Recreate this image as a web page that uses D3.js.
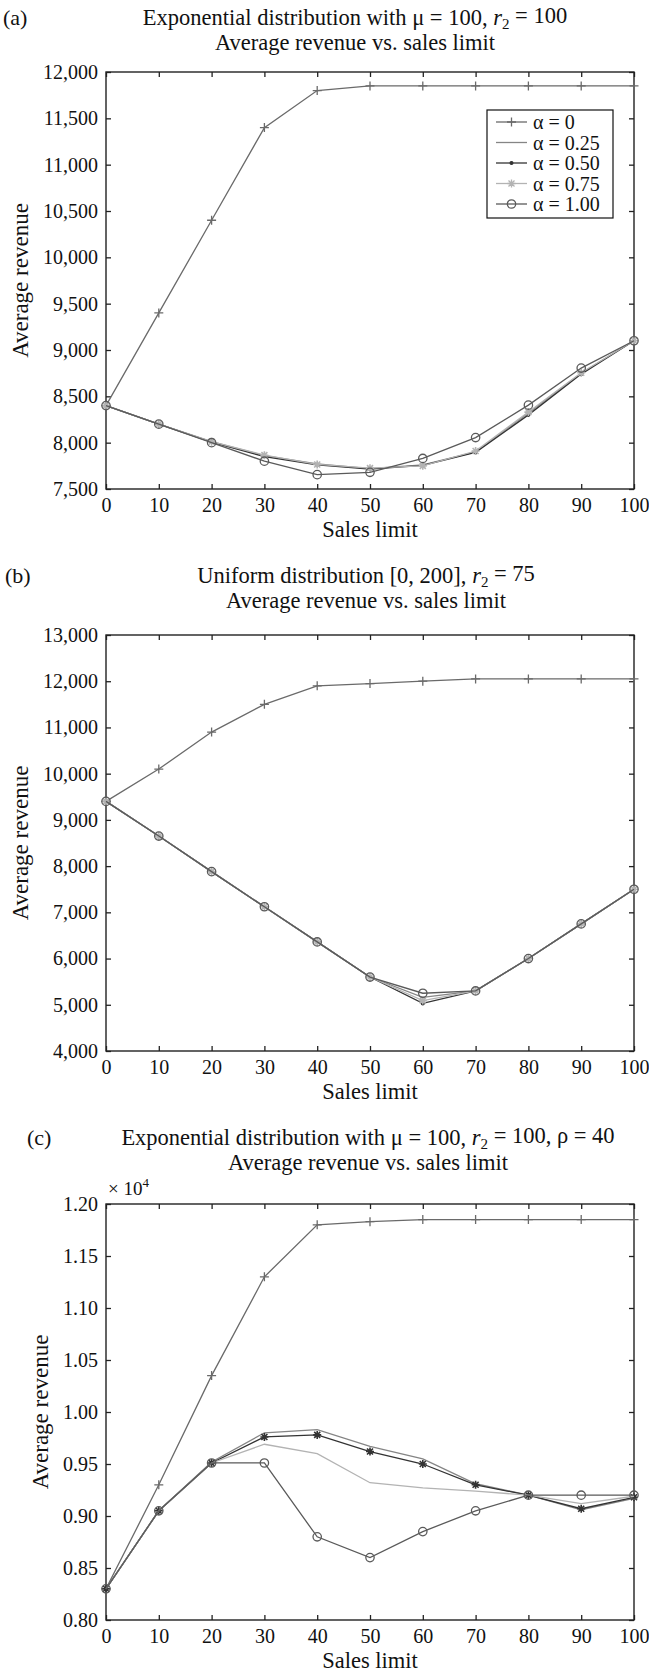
<!DOCTYPE html>
<html>
<head>
<meta charset="utf-8">
<script src="https://cdn.jsdelivr.net/npm/d3@7"></script>
<style>
  body { margin: 0; background: #fff; }
  text { font-family: "Liberation Serif", "Times New Roman", serif; fill: #111; }
</style>
</head>
<body>
<script>
// sales limit on the x axis, shared by all three panels
var salesLimit = [0, 10, 20, 30, 40, 50, 60, 70, 80, 90, 100]
var alphaNames = ["α = 0", "α = 0.25", "α = 0.50", "α = 0.75", "α = 1.00"]

// (a) exponential, mu = 100, r2 = 100
var aAlpha0   = [8400, 9400, 10400, 11400, 11800, 11850, 11850, 11850, 11850, 11850, 11850]
var aAlpha025 = [8400, 8200, 8010, 7860, 7770, 7720, 7760, 7900, 8320, 8750, 9100]
var aAlpha050 = [8400, 8200, 8005, 7850, 7760, 7715, 7755, 7895, 8300, 8740, 9100]
var aAlpha075 = [8400, 8200, 8010, 7865, 7765, 7725, 7750, 7910, 8330, 8755, 9100]
var aAlpha100 = [8400, 8200, 8000, 7800, 7655, 7680, 7830, 8055, 8405, 8805, 9100]
var aTicks = [7500, 8000, 8500, 9000, 9500, 10000, 10500, 11000, 11500, 12000]

// (b) uniform [0, 200], r2 = 75
var bAlpha0   = [9400, 10100, 10900, 11500, 11900, 11950, 12000, 12050, 12050, 12050, 12050]
var bAlpha025 = [9400, 8650, 7880, 7120, 6360, 5600, 5160, 5300, 6000, 6750, 7500]
var bAlpha050 = [9400, 8650, 7880, 7120, 6360, 5600, 5030, 5300, 6000, 6750, 7500]
var bAlpha075 = [9400, 8650, 7880, 7120, 6360, 5600, 5090, 5300, 6000, 6750, 7500]
var bAlpha100 = [9400, 8650, 7880, 7120, 6360, 5600, 5250, 5300, 6000, 6750, 7500]
var bTicks = [4000, 5000, 6000, 7000, 8000, 9000, 10000, 11000, 12000, 13000]

// (c) exponential, mu = 100, r2 = 100, rho = 40 (values x 10^4)
var cAlpha0   = [0.83, 0.93, 1.035, 1.13, 1.18, 1.183, 1.185, 1.185, 1.185, 1.185, 1.185]
var cAlpha025 = [0.83, 0.905, 0.952, 0.980, 0.983, 0.967, 0.955, 0.931, 0.920, 0.906, 0.917]
var cAlpha050 = [0.83, 0.905, 0.951, 0.976, 0.978, 0.962, 0.950, 0.930, 0.920, 0.907, 0.918]
var cAlpha075 = [0.83, 0.905, 0.951, 0.969, 0.960, 0.932, 0.927, 0.924, 0.920, 0.912, 0.919]
var cAlpha100 = [0.83, 0.905, 0.951, 0.951, 0.880, 0.860, 0.885, 0.905, 0.920, 0.920, 0.920]
var cTicks = [0.80, 0.85, 0.90, 0.95, 1.00, 1.05, 1.10, 1.15, 1.20]

// marker shapes, drawn as stroked paths
var markerPath = {
    plus: "M-4.5,0H4.5M0,-4.5V4.5",
    star: "M-4,0H4M0,-4V4M-3,-3L3,3M-3,3L3,-3",
    circle: d3.symbol(d3.symbolCircle, 55)(),
    dot: d3.symbol(d3.symbolCircle, 6)()
}
var styles = [
    {color: "#6a6a6a", marker: "plus"},
    {color: "#858585", marker: null},
    {color: "#333333", marker: "dot"},
    {color: "#b3b3b3", marker: "star"},
    {color: "#5a5a5a", marker: "circle"}
]

var svg = d3.select("body").append("svg")
    .attr("width", 649)
    .attr("height", 1674)

var left = 106, right = 634

function drawPanel(p) {
    var x = d3.scaleLinear().domain([0, 100]).range([left, right])
    var y = d3.scaleLinear().domain([p.ticks[0], p.ticks[p.ticks.length - 1]]).range([p.bottom, p.top])
    var g = svg.append("g")

    // panel letter and two title lines
    g.append("text").attr("x", p.tagX).attr("y", p.titleY).attr("dy", "0.35em")
        .attr("font-size", 22).text(p.tag)
    var t1 = g.append("text").attr("x", p.titleX).attr("y", p.titleY).attr("dy", "0.35em")
        .attr("font-size", 22.5).attr("text-anchor", "middle")
    p.title(t1)
    g.append("text").attr("x", p.titleX).attr("y", p.titleY + 25).attr("dy", "0.35em")
        .attr("font-size", 22.5).attr("text-anchor", "middle")
        .text("Average revenue vs. sales limit")

    // axes, ticks pointing inward on all four sides
    g.append("g").attr("transform", `translate(0,${p.bottom})`)
        .call(d3.axisBottom(x).tickValues(salesLimit).tickSize(-5).tickPadding(9))
    g.append("g").attr("transform", `translate(0,${p.top})`)
        .call(d3.axisTop(x).tickValues(salesLimit).tickSize(-5).tickFormat(""))
    g.append("g").attr("transform", `translate(${left},0)`)
        .call(d3.axisLeft(y).tickValues(p.ticks).tickSize(-5).tickPadding(8).tickFormat(p.format))
    g.append("g").attr("transform", `translate(${right},0)`)
        .call(d3.axisRight(y).tickValues(p.ticks).tickSize(-5).tickFormat(""))
    g.selectAll(".domain").remove()
    g.selectAll(".tick line").attr("stroke", "#222").attr("stroke-width", 1.3)
    g.selectAll(".tick text").attr("font-size", 20).attr("fill", "#111")

    g.append("rect")
        .attr("x", left).attr("y", p.top)
        .attr("width", right - left).attr("height", p.bottom - p.top)
        .attr("fill", "none").attr("stroke", "#222").attr("stroke-width", 1.4)

    // axis labels
    g.append("text").attr("x", (left + right) / 2).attr("y", p.bottom + 40).attr("dy", "0.35em")
        .attr("font-size", 22.5).attr("text-anchor", "middle").text("Sales limit")
    g.append("text")
        .attr("transform", `translate(${p.yLabelX},${(p.top + p.bottom) / 2}) rotate(-90)`)
        .attr("dy", "0.35em").attr("font-size", 23).attr("text-anchor", "middle")
        .text("Average revenue")

    if (p.exponent) {
        var e = g.append("text").attr("x", left + 2).attr("y", p.top - 16).attr("dy", "0.35em")
            .attr("font-size", 19)
        e.append("tspan").text("× 10")
        e.append("tspan").attr("font-size", 13).attr("dy", "-0.6em").text("4")
    }

    // series
    var line = d3.line().x((d, i) => x(salesLimit[i])).y(d => y(d))
    p.series.forEach((vals, k) => {
        var st = Object.assign({}, styles[k], (p.override || {})[k])
        g.append("path").datum(vals)
            .attr("fill", "none").attr("stroke", st.color).attr("stroke-width", 1.3)
            .attr("d", line)
        if (st.marker) {
            g.append("g").selectAll("path").data(vals).join("path")
                .attr("transform", (d, i) => `translate(${x(salesLimit[i])},${y(d)})`)
                .attr("d", markerPath[st.marker])
                .attr("fill", st.marker == "dot" ? st.color : "none")
                .attr("stroke", st.color).attr("stroke-width", st.marker == "star" ? 1.6 : 1.3)
        }
    })

    if (p.legend) {
        var lg = g.append("g").attr("transform", "translate(487,110)")
        lg.append("rect").attr("width", 126).attr("height", 108)
            .attr("fill", "#fff").attr("stroke", "#111").attr("stroke-width", 1.2)
        alphaNames.forEach((name, k) => {
            var st = styles[k], yy = 12 + k * 20.5
            lg.append("line").attr("x1", 9).attr("x2", 40).attr("y1", yy).attr("y2", yy)
                .attr("stroke", st.color).attr("stroke-width", 1.3)
            if (st.marker) {
                lg.append("path").attr("transform", `translate(24.5,${yy})`)
                    .attr("d", markerPath[st.marker])
                    .attr("fill", st.marker == "dot" ? st.color : "none")
                    .attr("stroke", st.color).attr("stroke-width", 1.3)
            }
            lg.append("text").attr("x", 46).attr("y", yy).attr("dy", "0.35em")
                .attr("font-size", 20).text(name)
        })
    }
}

function rTerm(t, pre, post) {
    t.append("tspan").text(pre)
    t.append("tspan").attr("font-style", "italic").text("r")
    t.append("tspan").attr("font-size", 15).attr("dy", "0.3em").text("2")
    t.append("tspan").attr("dy", "-0.3em").text(post)
}

drawPanel({
    tag: "(a)", tagX: 3, titleX: 355, titleY: 17, top: 72, bottom: 489, yLabelX: 20,
    ticks: aTicks, format: d3.format(","), legend: true,
    title: t => rTerm(t, "Exponential distribution with μ = 100, ", " = 100"),
    series: [aAlpha0, aAlpha025, aAlpha050, aAlpha075, aAlpha100]
})
drawPanel({
    tag: "(b)", tagX: 5, titleX: 366, titleY: 575, top: 635, bottom: 1051, yLabelX: 20,
    ticks: bTicks, format: d3.format(","),
    title: t => rTerm(t, "Uniform distribution [0, 200], ", " = 75"),
    series: [bAlpha0, bAlpha025, bAlpha050, bAlpha075, bAlpha100]
})
drawPanel({
    tag: "(c)", tagX: 27, titleX: 368, titleY: 1137, top: 1204, bottom: 1620, yLabelX: 40,
    ticks: cTicks, format: d3.format(".2f"), exponent: true,
    title: t => rTerm(t, "Exponential distribution with μ = 100, ", " = 100, ρ = 40"),
    series: [cAlpha0, cAlpha025, cAlpha050, cAlpha075, cAlpha100],
    override: {2: {marker: "star"}, 3: {marker: null}}
})
</script>
</body>
</html>
